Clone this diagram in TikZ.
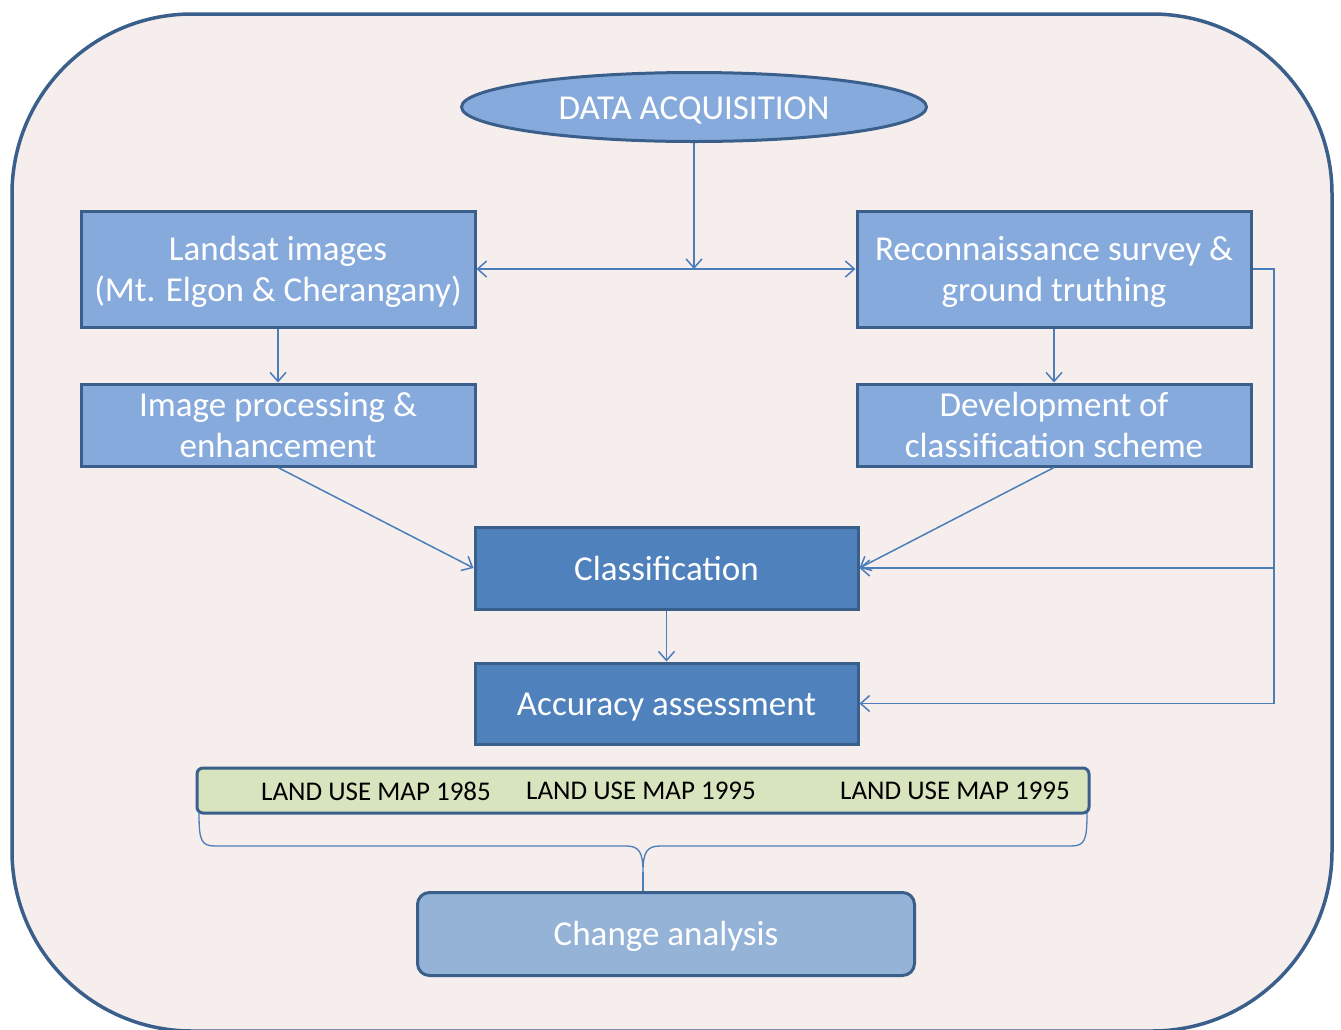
\documentclass[tikz,border=0pt]{standalone}
\usepackage{fontspec}
\setmainfont{Carlito}
\usetikzlibrary{shapes.geometric,arrows.meta}
\definecolor{bgc}{HTML}{F6EDED}
\definecolor{edgec}{HTML}{3A5F8B}
\definecolor{lightc}{HTML}{87AADD}
\definecolor{darkc}{HTML}{4F81BD}
\definecolor{greenc}{HTML}{D7E4BD}
\definecolor{changec}{HTML}{95B3D7}
\definecolor{connc}{HTML}{4A7EBB}
\newcommand\lowerby[2]{\raisebox{-#1}[\height][\depth]{#2}}
\tikzset{
  bigfont/.style={font=\fontsize{35}{41}\selectfont},
  lightbox/.style={draw=edgec, line width=3pt, fill=lightc, text=white, rectangle, inner sep=0pt, align=center, bigfont},
  darkbox/.style={lightbox, fill=darkc},
  conn/.style={draw=connc, line width=1.5pt},
  tip/.style={-{Straight Barb[length=9pt,width=16pt]}},
  tips/.style={{Straight Barb[length=9pt,width=16pt]}-{Straight Barb[length=9pt,width=16pt]}},
  mapfont/.style={text=black, font=\fontsize{27}{30}\selectfont, inner sep=0pt}
}
\begin{document}
\begin{tikzpicture}[x=1pt,y=-1pt]
\useasboundingbox (0,0) rectangle (1341,1029);
\clip (0,0) rectangle (1341,1029);
\draw[draw=edgec, line width=3.5pt, fill=bgc, rounded corners=180pt] (12,14) rectangle (1332,1031);

\node[ellipse, draw=edgec, line width=3pt, fill=lightc, text=white, inner sep=0pt, minimum width=465pt, minimum height=69pt, bigfont] (acq) at (694,107) {\lowerby{3pt}{DATA ACQUISITION}};

\node[lightbox, minimum width=394pt, minimum height=116pt] (land) at (278,269) {\lowerby{2.5pt}{Landsat images}\\\lowerby{2.5pt}{(Mt. Elgon \& Cherangany)}};
\node[lightbox, minimum width=394pt, minimum height=116pt] (recon) at (1054,269) {\lowerby{2.5pt}{Reconnaissance survey \&}\\\lowerby{2.5pt}{ground truthing}};
\node[lightbox, minimum width=394pt, minimum height=82pt] (imgp) at (278,425) {Image processing \&\\enhancement};
\node[lightbox, minimum width=394pt, minimum height=82pt] (dev) at (1054,425) {Development of\\classification scheme};
\node[darkbox, minimum width=383pt, minimum height=82pt] (cls) at (666.5,568) {Classification};
\node[darkbox, minimum width=383pt, minimum height=81pt] (acc) at (666.5,703.5) {\lowerby{4pt}{Accuracy assessment}};

\node[draw=edgec, line width=3pt, fill=greenc, rounded corners=6pt, minimum width=892pt, minimum height=45pt, inner sep=0pt] (lu) at (643,790.5) {};
\node[mapfont] (m1) at (376,791) {LAND USE MAP 1985};
\node[mapfont] (m2) at (641,791) {LAND USE MAP 1995};
\node[mapfont] (m3) at (955,791) {LAND USE MAP 1995};

\node[draw=edgec, line width=3pt, fill=changec, rounded corners=12pt, minimum width=497pt, minimum height=83pt, inner sep=0pt, text=white, bigfont] (chg) at (666,934) {\lowerby{2pt}{Change analysis}};

% connectors
\coordinate (mid) at (acq.south |- land.east);
\draw[conn, tip] (acq.south) -- (mid);
\draw[conn, tips] (land.east) -- (recon.west);
\draw[conn, tip] (land.south) -- (imgp.north);
\draw[conn, tip] (recon.south) -- (dev.north);
\draw[conn, tip] (imgp.south) -- (cls.west);
\draw[conn, tip] (dev.south) -- (cls.east);
\draw[conn, tip] (cls.south) -- (acc.north);
\coordinate (rx) at (1274,269);
\draw[conn, tip] (recon.east) -- (rx) -- (rx |- acc.east) -- (acc.east);
\draw[conn, tip] (rx |- cls.east) -- (cls.east);

% brace
\coordinate (bp) at (643,872);
\coordinate (bl) at (199,813);
\coordinate (br) at (1087,813);
\draw[conn, line width=1.3pt] (bl) .. controls (199,840) and (201,846) .. (215,846) -- (626,846) .. controls (639,846) and (643,852) .. (bp)
  .. controls (643,852) and (647,846) .. (660,846) -- (1071,846) .. controls (1085,846) and (1087,840) .. (br);
\draw[conn, line width=1.3pt] (bp) -- (bp |- chg.north);
\end{tikzpicture}
\end{document}
